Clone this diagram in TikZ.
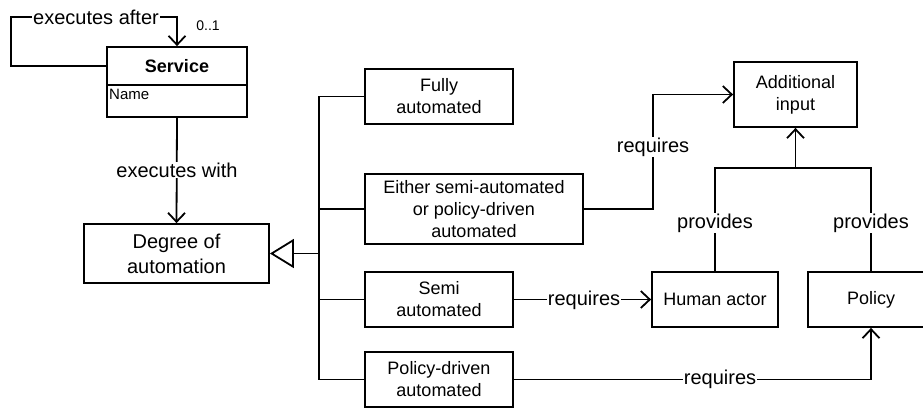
\documentclass[tikz,border=0pt]{standalone}
\usepackage{fontspec}
\setmainfont{Liberation Sans}
\usetikzlibrary{arrows.meta}

\tikzset{
  box/.style={draw, line width=1.8pt, inner sep=0pt, align=center,
    font=\fontsize{18}{22}\selectfont},
  lbl/.style={fill=white, inner sep=1pt, font=\fontsize{20}{24}\selectfont},
  conn/.style={line width=1.8pt},
  assoc/.style={conn, -{Straight Barb[length=9pt,width=17pt]}},
  gen/.style={conn, -{Triangle[open,length=24pt,width=29pt]}},
}

\begin{document}
\begin{tikzpicture}[x=1pt, y=-1pt]
\useasboundingbox (0,0) rectangle (923,408);
\clip (0,0) rectangle (923,408);

% Service class: header and attribute compartment
\node[box, minimum width=140pt, minimum height=38pt, font=\fontsize{18}{22}\selectfont\bfseries]
  (svc) at (177,66) {Service};
\node[box, minimum width=140pt, minimum height=32pt] (svcattr) at (177,101) {};
\node[anchor=north west, inner sep=0pt, font=\fontsize{15}{18}\selectfont]
  (svcname) at (109,89) {Name};

% Self association "executes after"
\coordinate (loopA) at (11,17);
\draw[assoc] (svc.west) -| (loopA) -| (svc.north);
\node[lbl] (lexafter) at (96,17) {executes after};
\node[inner sep=0pt, font=\fontsize{14}{16}\selectfont] (mult) at (208,26) {0..1};

% Degree of automation
\node[box, minimum width=185pt, minimum height=59pt, font=\fontsize{20}{25}\selectfont]
  (deg) at (176.5,253.5) {Degree of\\automation};
\draw[assoc] (svcattr.south) -- (deg.north);
\node[lbl] (lexwith) at (177,170) {executes with};

% Kinds of automation
\node[box, minimum width=148pt, minimum height=55pt] (fully) at (439,96.5) {Fully\\automated};
\node[box, minimum width=218pt, minimum height=70pt] (either) at (474,209)
  {Either semi-automated\\or policy-driven\\automated};
\node[box, minimum width=148pt, minimum height=55pt] (semi) at (439,299.5) {Semi\\automated};
\node[box, minimum width=148pt, minimum height=55pt] (pdriven) at (439,379.5) {Policy-driven\\automated};

% Generalization tree
\coordinate (trunk) at (319,253.5);
\draw[conn] (fully.west) -- (fully.west -| trunk) -- (pdriven.west -| trunk) -- (pdriven.west);
\draw[conn] (either.west) -- (either.west -| trunk);
\draw[conn] (semi.west) -- (semi.west -| trunk);
\draw[gen] (trunk) -- (deg.east);

% Inputs
\node[box, minimum width=123pt, minimum height=65pt] (addin) at (795.5,94.5) {Additional\\input};
\node[box, minimum width=126pt, minimum height=55pt] (human) at (715,299.5) {Human actor};
\node[box, minimum width=126pt, minimum height=55pt] (policy) at (871,299.5) {Policy};

% requires
\coordinate (reqA) at (653,94.5);
\draw[assoc] (either.east) -| (reqA) -- (addin.west);
\node[lbl] (lreq1) at (653,147) {requires};

\draw[assoc] (semi.east) -- (human.west);
\node[lbl] (lreq2) at (584,300) {requires};

\draw[assoc] (pdriven.east) -| (policy.south);
\node[lbl] (lreq3) at (720,379.5) {requires};

% provides
\coordinate (junc) at (795.5,168);
\draw[conn] (human.north) |- (junc) -| (policy.north);
\draw[assoc] (junc) -- (addin.south);
\node[lbl] (lprov1) at (715,223) {provides};
\node[lbl] (lprov2) at (871,223) {provides};
\end{tikzpicture}
\end{document}
